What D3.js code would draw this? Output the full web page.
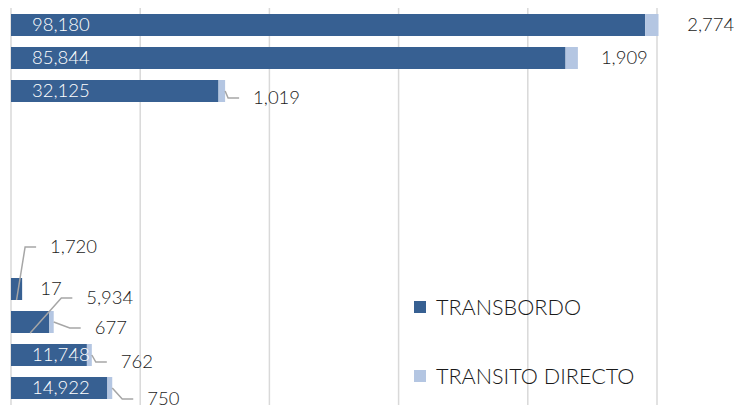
<!DOCTYPE html>
<html>
<head>
<meta charset="utf-8">
<script src="https://cdn.jsdelivr.net/npm/d3@7"></script>
<style>
  body { margin: 0; background: #fff; }
  svg { display: block; font-family: Lato, "Open Sans", sans-serif; font-weight: 300; }
</style>
</head>
<body>
<div class="chart"></div>
<script>
// rows top to bottom, empty rows have no values
const rows = ['r1', 'r2', 'r3', 'r4', 'r5', 'r6', 'r7', 'r8', 'r9', 'r10', 'r11', 'r12'];
const transbordo = [98180, 85844, 32125, null, null, null, null, null, 1720, 5934, 11748, 14922];
const transito = [2774, 1909, 1019, null, null, null, null, null, 17, 677, 762, 750];
const seriesNames = ['TRANSBORDO', 'TRANSITO DIRECTO'];
const xTicks = [0, 20000, 40000, 60000, 80000, 100000];

// label nudges (manual placement as in the source), null = default
const transbordoLabel = [null, null, null, null, null, null, null, null,
  {dx: 28, dy: -42, lead: 'bottom'}, {dx: 37, dy: -24, lead: 'bottom'}, null, null];
const transitoLabel = [{dx: 24, dy: 0}, {dx: 23, dy: 0}, {dx: 28, dy: 7, lead: 'end'},
  null, null, null, null, null,
  {dx: 18, dy: 0}, {dx: 41, dy: 6, lead: 'end'}, {dx: 29, dy: 7, lead: 'end'}, {dx: 35, dy: 11, lead: 'end'}];

const width = 734, height = 408;
const dark = '#376092', light = '#b4c6e2';
const fmt = d3.format(',');

const svg = d3.select('.chart').append('svg')
  .attr('width', width)
  .attr('height', height);

const x = d3.scaleLinear().domain([0, 100000]).range([11, 657]);
const y = d3.scaleBand().domain(rows).range([8.5, 404.5]).paddingInner(1/3).paddingOuter(1/6);

// gridlines
svg.selectAll('line.grid')
  .data(xTicks)
  .enter()
  .append('line')
  .attr('class', 'grid')
  .attr('x1', d => x(d)).attr('x2', d => x(d))
  .attr('y1', 8).attr('y2', 405)
  .attr('stroke', '#d9d9d9')
  .attr('stroke-width', 1.5);

svg.append('clipPath').attr('id', 'plot')
  .append('rect').attr('x', 0).attr('y', 0).attr('width', x(100000) + 1.5).attr('height', height);

const data = rows.map((r, i) => ({row: r, a: transbordo[i], b: transito[i], i: i}))
  .filter(d => d.a != null);

const bars = svg.append('g').attr('clip-path', 'url(#plot)');

bars.selectAll('rect.a')
  .data(data)
  .enter()
  .append('rect')
  .attr('x', x(0))
  .attr('y', d => y(d.row))
  .attr('width', d => x(d.a) - x(0))
  .attr('height', y.bandwidth())
  .attr('fill', dark);

bars.selectAll('rect.b')
  .data(data)
  .enter()
  .append('rect')
  .attr('x', d => x(d.a))
  .attr('y', d => y(d.row))
  .attr('width', d => x(d.a + d.b) - x(d.a))
  .attr('height', y.bandwidth())
  .attr('fill', light);

// labels + leader lines
const labels = [];
data.forEach(d => {
  const cy = y(d.row) + y.bandwidth() / 2;
  const na = transbordoLabel[d.i];
  if (na == null) {
    labels.push({x: x(0) + 21, y: cy, text: fmt(d.a), color: '#fff'});
  } else {
    const lx = x(d.a) + na.dx, ly = cy + na.dy;
    labels.push({x: lx, y: ly, text: fmt(d.a), color: '#1a1a1a',
      p0: [(x(0) + x(d.a)) / 2, y(d.row) + y.bandwidth()]});
  }
  const nb = transitoLabel[d.i];
  const lx = x(d.a + d.b) + nb.dx, ly = cy + nb.dy;
  const lab = {x: lx, y: ly, text: fmt(d.b), color: '#1a1a1a'};
  if (nb.lead == 'end') lab.p0 = [x(d.a + d.b), cy];
  labels.push(lab);
});

svg.selectAll('path.leader')
  .data(labels.filter(l => l.p0))
  .enter()
  .append('path')
  .attr('d', l => d3.line()([l.p0, [l.x - 25, l.y], [l.x - 14, l.y]]))
  .attr('fill', 'none')
  .attr('stroke', '#a6a6a6')
  .attr('stroke-width', 1.5);

svg.selectAll('text.lab')
  .data(labels)
  .enter()
  .append('text')
  .attr('x', l => l.x)
  .attr('y', l => l.y)
  .attr('dy', '0.35em')
  .attr('fill', l => l.color)
  .attr('font-size', '18.5px')
  .text(l => l.text);

// legend
const legend = svg.selectAll('g.legend')
  .data(seriesNames)
  .enter()
  .append('g')
  .attr('transform', (d, i) => 'translate(414,' + (307 + i * 69) + ')');

legend.append('rect')
  .attr('x', 0).attr('y', -6)
  .attr('width', 12).attr('height', 12)
  .attr('fill', (d, i) => i == 0 ? dark : light);

legend.append('text')
  .attr('x', 22)
  .attr('y', 0)
  .attr('dy', '0.35em')
  .attr('font-size', '21.6px')
  .attr('fill', '#1a1a1a')
  .text(d => d);
</script>
</body>
</html>
